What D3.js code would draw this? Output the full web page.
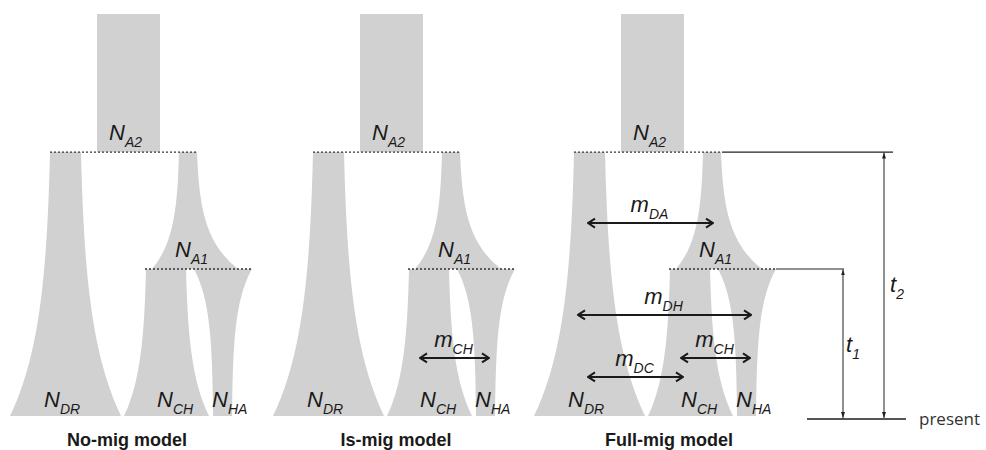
<!DOCTYPE html>
<html><head><meta charset="utf-8">
<script src="https://cdn.jsdelivr.net/npm/d3@7"></script>
<style>body{margin:0;background:#fff}</style>
</head><body><svg id="c" width="986" height="450"></svg>
<script>
// ---- data ----
const models = ["No-mig model", "Is-mig model", "Full-mig model"];
// event times (arbitrary units, present = 0)
const eventNames = ["present", "t1", "t2", "root"];
const eventTimes = [0, 0.557, 1.0, 1.523];
// populations (widths given in model units)
const popNames   = ["A2", "DR", "A1", "CH", "HA"];
const popTop     = ["root", "t2", "t2", "t1", "t1"];
const popBottom  = ["t2", "present", "t1", "present", "present"];
const popTopL    = [97, 50, 179, 146, 194];
const popTopR    = [160, 81, 197, 186, 252];
const popBotL    = [97, 10, 152, 124, 213];
const popBotR    = [160, 121, 238, 209, 232];
const popKind    = ["const", "grow", "grow", "grow", "shrink"];
const popRate    = [0, 3, 3.5, 3, 4];
// migration edges per model
const migNames   = ["CH", "DA", "DH", "CH", "DC"];
const migModel   = [1, 2, 2, 2, 2];
const migTime    = [0.220, 0.731, 0.383, 0.220, 0.148];
const migFrom    = [157, 64, 54, 157, 64];
const migTo      = [226, 189, 227, 226, 159];

// ---- layout ----
const svg = d3.select("#c");
const y = d3.scaleLinear().domain([0, 1.523]).range([416, 14]);
const tOf = n => eventTimes[eventNames.indexOf(n)];
const modelOffset = [0, 263, 524];
const titleX = [127, 396, 669];
const xs = models.map((m, i) => d3.scaleLinear().domain([0, 1]).range([modelOffset[i], modelOffset[i] + 1]));
const grey = "#d1d1d1";
const font = "'Liberation Sans', Arial, Helvetica, sans-serif";

const labelX = {A2: 109, DR: 44, A1: 175, CH: 157, HA: 212};
const labelDy = {A2: -12, DR: -9, A1: -12, CH: -9, HA: -9};

const defs = svg.append("defs");
defs.append("marker").attr("id", "chev").attr("viewBox", "0 -6 10 12")
  .attr("refX", 9).attr("refY", 0).attr("markerWidth", 10).attr("markerHeight", 12)
  .attr("markerUnits", "userSpaceOnUse").attr("orient", "auto-start-reverse")
  .append("path").attr("d", "M2,-4.5L9,0L2,4.5").attr("fill", "none")
  .attr("stroke", "#1a1a1a").attr("stroke-width", 2);
defs.append("marker").attr("id", "tri").attr("viewBox", "0 -3 6 6")
  .attr("refX", 6).attr("refY", 0).attr("markerWidth", 6).attr("markerHeight", 6)
  .attr("markerUnits", "userSpaceOnUse").attr("orient", "auto-start-reverse")
  .append("path").attr("d", "M0,-2L6,0L0,2Z").attr("fill", "#222");

function frac(kind, k, s) {
  if (kind === "const") return 0;
  if (kind === "grow") return (Math.exp(k * s) - 1) / (Math.exp(k) - 1);
  return 1 - (Math.exp(k * (1 - s)) - 1) / (Math.exp(k) - 1);
}

function subLabel(g, x, yy, main, sub, anchor) {
  const t = g.append("text").attr("x", x).attr("y", yy)
    .attr("font-family", font).attr("font-style", "italic").attr("font-size", 22)
    .attr("fill", "#1a1a1a").attr("text-anchor", anchor || "start");
  t.append("tspan").text(main);
  t.append("tspan").attr("font-size", 14).attr("dy", 7).text(sub);
  return t;
}

const area = d3.area().y(d => d.y).x0(d => d.l).x1(d => d.r);

models.forEach((m, mi) => {
  const x = xs[mi];
  const g = svg.append("g");
  popNames.forEach((p, i) => {
    const y0 = y(tOf(popTop[i])), y1 = y(tOf(popBottom[i]));
    const pts = d3.range(0, 61).map(j => {
      const s = j / 60, f = frac(popKind[i], popRate[i], s);
      return {
        y: y0 + (y1 - y0) * s,
        l: x(popTopL[i] + (popBotL[i] - popTopL[i]) * f),
        r: x(popTopR[i] + (popBotR[i] - popTopR[i]) * f)
      };
    });
    g.append("path").attr("d", area(pts)).attr("fill", grey);
  });
  // split lines (dashed)
  const dash = (a, b, t) => g.append("line").attr("x1", x(a)).attr("x2", x(b))
    .attr("y1", y(t)).attr("y2", y(t)).attr("stroke", "#333").attr("stroke-width", 1.3)
    .attr("stroke-dasharray", "2,2");
  dash(50, 198, tOf("t2"));
  dash(145, 252, tOf("t1"));
  // population labels
  popNames.forEach((p, i) => {
    subLabel(g, x(labelX[p]), y(tOf(popBottom[i])) + labelDy[p], "N", p);
  });
  // migration arrows
  migNames.forEach((n, i) => {
    if (migModel[i] !== mi) return;
    const yy = y(migTime[i]);
    g.append("line").attr("x1", x(migFrom[i])).attr("x2", x(migTo[i]))
      .attr("y1", yy).attr("y2", yy).attr("stroke", "#1a1a1a").attr("stroke-width", 2)
      .attr("marker-start", "url(#chev)").attr("marker-end", "url(#chev)");
    subLabel(g, x((migFrom[i] + migTo[i]) / 2) - 1, yy - 11, "m", n, "middle");
  });
  // title
  svg.append("text").attr("x", titleX[mi]).attr("y", 446).attr("text-anchor", "middle")
    .attr("font-family", font).attr("font-weight", "bold").attr("font-size", 18)
    .attr("fill", "#1a1a1a").text(m);
});

// time axis for the full model
const x3 = xs[2];
const ax = svg.append("g");
ax.append("line").attr("x1", x3(198)).attr("x2", x3(369)).attr("y1", y(tOf("t2"))).attr("y2", y(tOf("t2")))
  .attr("stroke", "#222").attr("stroke-width", 1.2);
ax.append("line").attr("x1", x3(252)).attr("x2", x3(320)).attr("y1", y(tOf("t1"))).attr("y2", y(tOf("t1")))
  .attr("stroke", "#222").attr("stroke-width", 1.2);
const yPresent = y(0) + 3;
ax.append("line").attr("x1", x3(283)).attr("x2", x3(382)).attr("y1", yPresent).attr("y2", yPresent)
  .attr("stroke", "#555").attr("stroke-width", 2);
[["t1", 319], ["t2", 360]].forEach(([e, xx]) => {
  ax.append("line").attr("x1", x3(xx)).attr("x2", x3(xx)).attr("y1", y(tOf(e)) + 0.5).attr("y2", yPresent - 1)
    .attr("stroke", "#222").attr("stroke-width", 1)
    .attr("marker-start", "url(#tri)").attr("marker-end", "url(#tri)");
});
subLabel(ax, x3(322), 352, "t", "1");
subLabel(ax, x3(366), 292, "t", "2");
ax.append("text").attr("x", x3(395)).attr("y", 425).attr("font-family", "'Open Sans', sans-serif")
  .attr("font-size", 17).attr("fill", "#333").text("present");
</script></body></html>
